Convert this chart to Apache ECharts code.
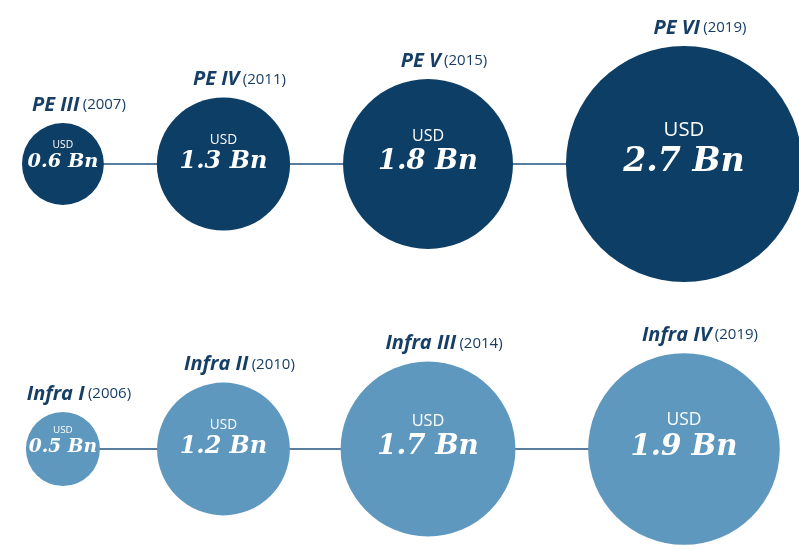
<!DOCTYPE html>
<html>
<head>
<meta charset="utf-8">
<script src="https://cdn.jsdelivr.net/npm/echarts@6/dist/echarts.min.js"></script>
<style>
  html, body { margin: 0; padding: 0; background: #fff; }
  #chart { width: 799px; height: 550px; }
</style>
</head>
<body>
<div id="chart"></div>
<script>
// fund rows
const rowNames = ['PE', 'Infra']

const peFunds = ['PE III', 'PE IV', 'PE V', 'PE VI']
const peYears = [2007, 2011, 2015, 2019]
const peSizes = [0.6, 1.3, 1.8, 2.7] // USD Bn

const infraFunds = ['Infra I', 'Infra II', 'Infra III', 'Infra IV']
const infraYears = [2006, 2010, 2014, 2019]
const infraSizes = [0.5, 1.2, 1.7, 1.9] // USD Bn

const NAVY = '#0c3e66'
const LIGHT = '#5e98be'
const TEXT = '#173f66'

// bubble radius from fund size (each row has its own scale in the original)
function radius(row, v) {
  return row === 0 ? 18.9 + 36.7 * v : 16 + 42 * v
}

// horizontal layout: bubbles of the top row sit a fixed gap apart, bottom row aligns to them
const gap = 53
const xPos = []
{
  const rs = peSizes.map((v) => radius(0, v))
  let x = 22
  rs.forEach((r, i) => {
    x += i === 0 ? r : rs[i - 1] + gap + r
    xPos.push(x)
  })
}

function buildRow(row, funds, years, sizes, color) {
  const pts = sizes.map((v, i) => [xPos[i], rowNames[row], v])

  const bubbles = pts.map((p) => {
    const r = radius(row, p[2])
    const uSize = 5 + 0.13 * r
    const vSize = 12 + 0.18 * r
    const uLine = uSize * 1.2
    return {
      value: p,
      label: {
        offset: [0, -(4 + uLine / 2) + 2],
        rich: {
          u: { fontFamily: 'Open Sans', fontSize: uSize, lineHeight: uLine, color: '#fff' },
          v: {
            fontFamily: 'DejaVu Serif',
            fontStyle: 'italic',
            fontWeight: 'bold',
            fontSize: vSize,
            lineHeight: vSize * 1.15,
            color: '#fff',
          },
        },
      },
    }
  })

  return [
    {
      type: 'line',
      z: 1,
      data: pts,
      symbol: 'circle',
      symbolSize: (val) => radius(row, val[2]) * 2,
      itemStyle: { color: 'rgba(0,0,0,0)' },
      lineStyle: { color: '#5a7ea0', width: 2 },
      label: {
        show: true,
        position: 'top',
        distance: 8,
        offset: [16, 0],
        formatter: (p) => `{n|${funds[p.dataIndex]}} {y|(${years[p.dataIndex]})}`,
        rich: {
          n: { fontFamily: 'Open Sans', fontStyle: 'italic', fontWeight: 'bold', fontSize: 20, color: TEXT },
          y: { fontFamily: 'Open Sans', fontSize: 15, color: TEXT },
        },
      },
    },
    {
      type: 'scatter',
      z: 2,
      data: bubbles,
      symbolSize: (val) => radius(row, val[2]) * 2,
      itemStyle: { color, opacity: 1 },
      label: {
        show: true,
        position: 'inside',
        align: 'center',
        formatter: (p) => `{u|USD}\n{v|${p.value[2].toFixed(1)} Bn}`,
      },
    },
  ]
}

const chart = echarts.init(document.getElementById('chart'))
chart.setOption({
  animation: false,
  backgroundColor: '#fff',
  grid: { left: 0, right: 0, top: 164, bottom: 101 },
  xAxis: { type: 'value', min: 0, max: 799, show: false },
  yAxis: {
    type: 'category',
    data: rowNames,
    inverse: true,
    boundaryGap: false,
    show: false,
  },
  series: [
    ...buildRow(0, peFunds, peYears, peSizes, NAVY),
    ...buildRow(1, infraFunds, infraYears, infraSizes, LIGHT),
  ],
})
</script>
</body>
</html>
